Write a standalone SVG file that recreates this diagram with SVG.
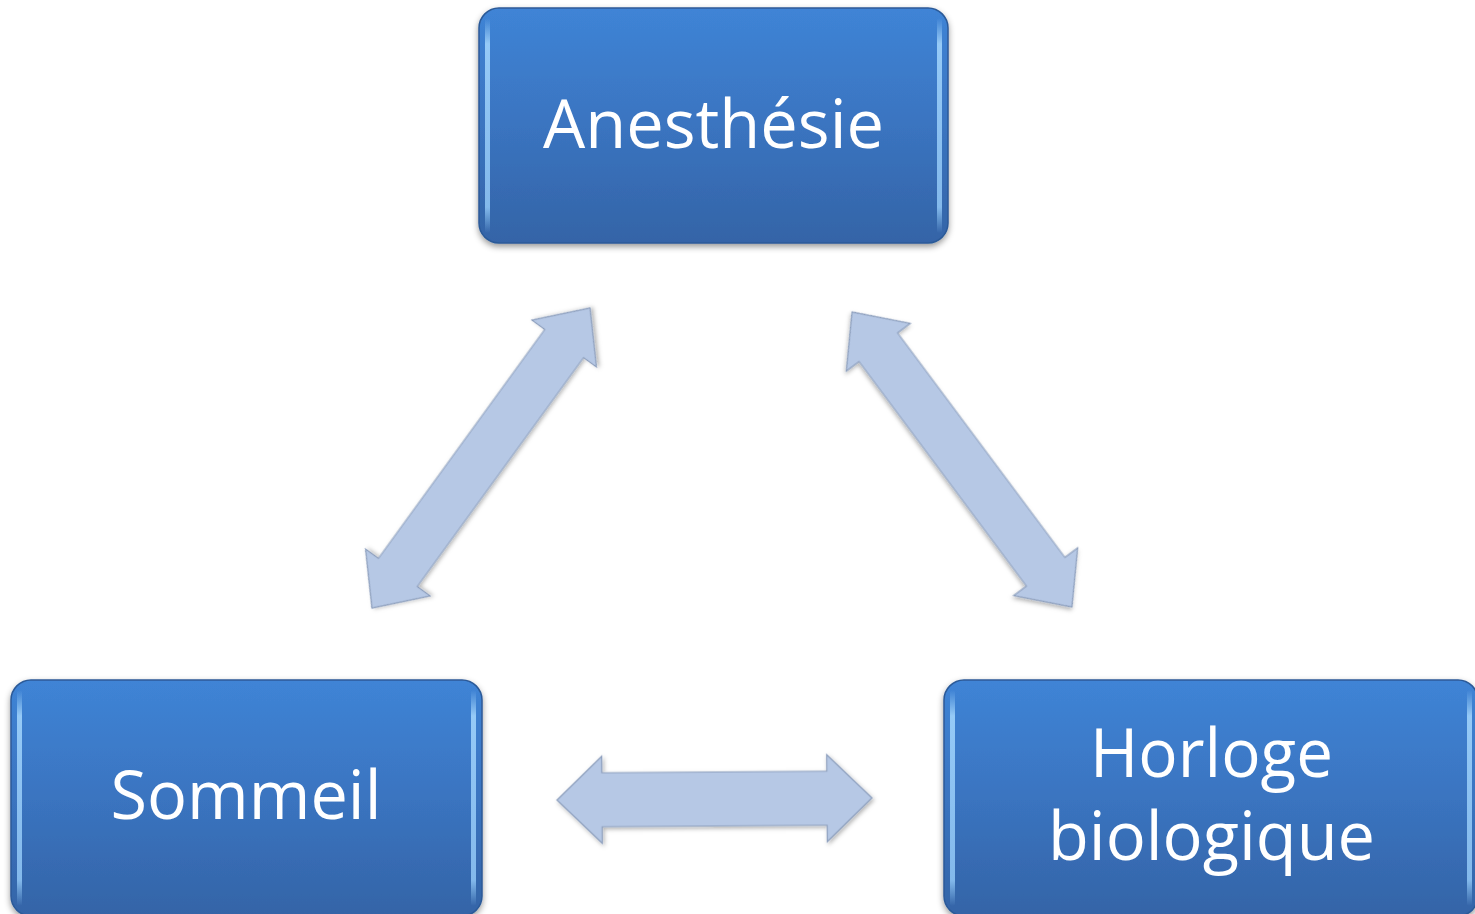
<svg xmlns="http://www.w3.org/2000/svg" width="1475" height="914" viewBox="0 0 1475 914">
  <defs>
    <linearGradient id="boxFill" x1="0" y1="0" x2="0" y2="1">
      <stop offset="0" stop-color="#3f84d6"/>
      <stop offset="0.5" stop-color="#3a74c0"/>
      <stop offset="1" stop-color="#3464a7"/>
    </linearGradient>
    <linearGradient id="edgeGlow" x1="0" y1="0" x2="0" y2="1">
      <stop offset="0" stop-color="#9fd2fb" stop-opacity="0"/>
      <stop offset="0.12" stop-color="#9fd2fb" stop-opacity="0.9"/>
      <stop offset="0.88" stop-color="#8cc2f2" stop-opacity="0.9"/>
      <stop offset="1" stop-color="#8cc2f2" stop-opacity="0"/>
    </linearGradient>
    <filter id="boxShadow" x="-10%" y="-10%" width="120%" height="125%">
      <feDropShadow dx="0" dy="3" stdDeviation="3" flood-color="#000" flood-opacity="0.4"/>
    </filter>
    <filter id="arrowShadow" x="-20%" y="-20%" width="140%" height="140%">
      <feDropShadow dx="1.5" dy="2" stdDeviation="2" flood-color="#000" flood-opacity="0.3"/>
    </filter>
  </defs>
  <style>
    .box { fill: url(#boxFill); stroke: #2c5a98; stroke-width: 1.5; filter: url(#boxShadow); }
    .glow { fill: url(#edgeGlow); }
    .label { fill: #ffffff; font-family: "Open Sans", "Noto Sans", "Liberation Sans", sans-serif; font-size: 68px; text-anchor: middle; }
    .arrow { fill: #b6c8e5; stroke: #8d9fbd; stroke-width: 1.2; stroke-linejoin: miter; filter: url(#arrowShadow); }
  </style>

  <rect width="1475" height="914" fill="#ffffff"/>

  <!-- connectors: double-headed block arrows -->
  <g id="connectors">
    <polygon class="arrow" transform="translate(481 458) rotate(-54)"
      points="-185.5,0 -141.5,-40 -141.5,-24 141.5,-24 141.5,-40 185.5,0 141.5,40 141.5,24 -141.5,24 -141.5,40"/>
    <polygon class="arrow" transform="translate(962 459.5) rotate(53.3)"
      points="-184,0 -140,-40 -140,-24 140,-24 140,-40 184,0 140,40 140,24 -140,24 -140,40"/>
    <polygon class="arrow" transform="translate(714.5 799) rotate(-0.4)"
      points="-157.5,0 -112.5,-43.5 -112.5,-27 112.5,-27 112.5,-43.5 157.5,0 112.5,43.5 112.5,27 -112.5,27 -112.5,43.5"/>
  </g>

  <!-- Anesthésie -->
  <g id="node-anesthesie">
    <rect class="box" x="479" y="8" width="469" height="235" rx="20"/>
    <rect class="glow" x="485" y="18" width="5" height="215" rx="2.5"/>
    <rect class="glow" x="937" y="18" width="5" height="215" rx="2.5"/>
    <text class="label" x="713.5" y="148" textLength="341" lengthAdjust="spacingAndGlyphs">Anesthésie</text>
  </g>

  <!-- Sommeil -->
  <g id="node-sommeil">
    <rect class="box" x="11" y="680" width="471" height="236" rx="20"/>
    <rect class="glow" x="17" y="690" width="5" height="216" rx="2.5"/>
    <rect class="glow" x="471" y="690" width="5" height="216" rx="2.5"/>
    <text class="label" x="246" y="819" textLength="271" lengthAdjust="spacingAndGlyphs">Sommeil</text>
  </g>

  <!-- Horloge biologique -->
  <g id="node-horloge">
    <rect class="box" x="944" y="680" width="534" height="236" rx="20"/>
    <rect class="glow" x="950" y="690" width="5" height="216" rx="2.5"/>
    <rect class="glow" x="1467" y="690" width="5" height="216" rx="2.5"/>
    <text class="label" x="1211.5" y="777" textLength="243" lengthAdjust="spacingAndGlyphs">Horloge</text>
    <text class="label" x="1211.5" y="860" textLength="327" lengthAdjust="spacingAndGlyphs">biologique</text>
  </g>
</svg>
